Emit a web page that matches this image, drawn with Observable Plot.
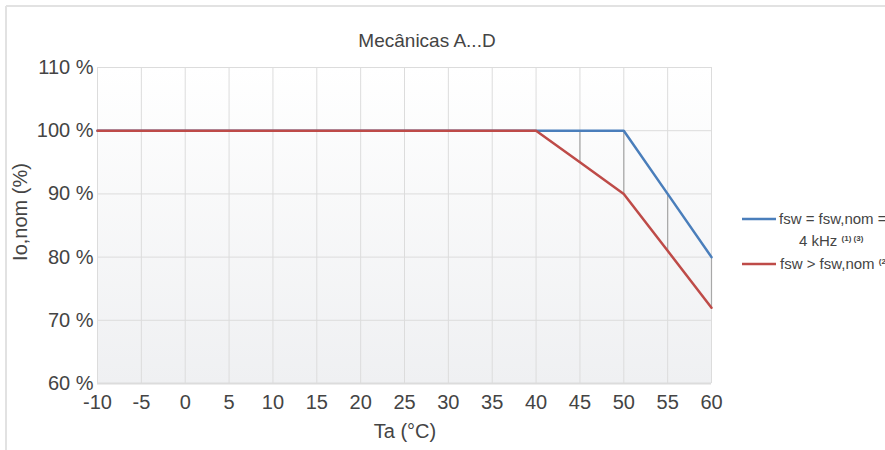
<!DOCTYPE html>
<html>
<head>
<meta charset="utf-8">
<script src="https://cdn.jsdelivr.net/npm/d3@7"></script>
<script src="https://cdn.jsdelivr.net/npm/@observablehq/plot@0.6"></script>
<style>
  html, body { margin: 0; padding: 0; background: #fff; }
  #chart { width: 885px; height: 450px; }
</style>
</head>
<body>
<div id="chart"></div>
<script>
const title = "Mecânicas A...D";
const xLabel = "Ta (°C)";
const yLabel = "Io,nom (%)";
const temps = [-10, -5, 0, 5, 10, 15, 20, 25, 30, 35, 40, 45, 50, 55, 60];
const seriesNom = [100, 100, 100, 100, 100, 100, 100, 100, 100, 100, 100, 100, 100, 90, 80];
const seriesHigh = [100, 100, 100, 100, 100, 100, 100, 100, 100, 100, 100, 95, 90, 81, 72];
const xTicks = [-10, -5, 0, 5, 10, 15, 20, 25, 30, 35, 40, 45, 50, 55, 60];
const yTicks = [60, 70, 80, 90, 100, 110];
const legendNom = ["fsw = fsw,nom =", "4 kHz", "(1) (3)"];
const legendHigh = ["fsw > fsw,nom", "(2)"];

const blue = "#4a7ebb";
const red = "#be4b48";

const nomData = temps.map((t, i) => ({t, v: seriesNom[i]}));
const highData = temps.map((t, i) => ({t, v: seriesHigh[i]}));
const drops = temps.map((t, i) => ({t, a: seriesNom[i], b: seriesHigh[i]})).filter(d => d.a !== d.b || d.t === 45);

const svg = Plot.plot({
  width: 885,
  height: 450,
  marginLeft: 97,
  marginRight: 174,
  marginTop: 67,
  marginBottom: 67,
  style: {fontFamily: "'Liberation Sans', Arial, sans-serif", color: "#444", background: "#fff"},
  x: {domain: [-10, 60]},
  y: {domain: [60, 110]},
  marks: [
    Plot.frame({fill: "url(#bgGrad)", stroke: "none"}),
    Plot.gridX(xTicks, {stroke: "#dcdcdc", strokeOpacity: 1, strokeWidth: 1}),
    Plot.gridY(yTicks, {stroke: "#dcdcdc", strokeOpacity: 1, strokeWidth: 1}),
    Plot.ruleY([60], {stroke: "#dcdcdc", strokeWidth: 2}),
    Plot.ruleX(drops, {x: "t", y1: "a", y2: "b", stroke: "#a8a8a8", strokeWidth: 1.2}),
    Plot.line(nomData, {x: "t", y: "v", stroke: blue, strokeWidth: 2.5}),
    Plot.line(highData, {x: "t", y: "v", stroke: red, strokeWidth: 2.5}),
    Plot.axisX(xTicks, {tickSize: 0, tickPadding: 11, fontSize: 20, fill: "#444", label: null, tickFormat: d => String(d)}),
    Plot.axisY(yTicks, {tickSize: 0, tickPadding: 4, fontSize: 20, fill: "#444", label: null, tickFormat: d => d + " %"})
  ]
});

const s = d3.select(svg);
const defs = s.insert("defs", ":first-child");
const g = defs.append("linearGradient").attr("id", "bgGrad").attr("x1", 0).attr("y1", 0).attr("x2", 0).attr("y2", 1);
g.append("stop").attr("offset", "0%").attr("stop-color", "#ffffff");
g.append("stop").attr("offset", "100%").attr("stop-color", "#eff0f2");

// outer border
s.append("line").attr("x1", 6).attr("x2", 6).attr("y1", 6).attr("y2", 450).attr("stroke", "#e2e2e2").attr("stroke-width", 2);
s.append("line").attr("x1", 6).attr("x2", 885).attr("y1", 6).attr("y2", 6).attr("stroke", "#e2e2e2").attr("stroke-width", 2);

const font = "'Liberation Sans', Arial, sans-serif";
s.append("text").attr("x", 427).attr("y", 47).attr("text-anchor", "middle")
  .attr("font-family", font).attr("font-size", 19).attr("fill", "#444").text(title);

s.append("text").attr("x", 405).attr("y", 438).attr("text-anchor", "middle")
  .attr("font-family", font).attr("font-size", 20).attr("fill", "#444").text(xLabel);

s.append("text").attr("transform", "translate(27,212) rotate(-90)").attr("text-anchor", "middle")
  .attr("font-family", font).attr("font-size", 20).attr("fill", "#444").text(yLabel);

// legend
s.append("line").attr("x1", 742).attr("x2", 776).attr("y1", 219).attr("y2", 219).attr("stroke", blue).attr("stroke-width", 2.5);
s.append("text").attr("x", 779).attr("y", 224).attr("text-anchor", "start").attr("font-family", font).attr("font-size", 15).attr("fill", "#444").text(legendNom[0]);
const t2 = s.append("text").attr("x", 799).attr("y", 246).attr("text-anchor", "start").attr("font-family", font).attr("font-size", 15).attr("fill", "#444");
t2.append("tspan").text(legendNom[1] + " ");
t2.append("tspan").attr("font-size", 8).attr("font-weight", "bold").attr("dy", -5).text(legendNom[2]);

s.append("line").attr("x1", 742).attr("x2", 776).attr("y1", 264).attr("y2", 264).attr("stroke", red).attr("stroke-width", 2.5);
const t3 = s.append("text").attr("x", 780).attr("y", 269).attr("text-anchor", "start").attr("font-family", font).attr("font-size", 15).attr("fill", "#444");
t3.append("tspan").text(legendHigh[0] + " ");
t3.append("tspan").attr("font-size", 8).attr("font-weight", "bold").attr("dy", -5).text(legendHigh[1]);

document.getElementById("chart").appendChild(svg);
</script>
</body>
</html>
